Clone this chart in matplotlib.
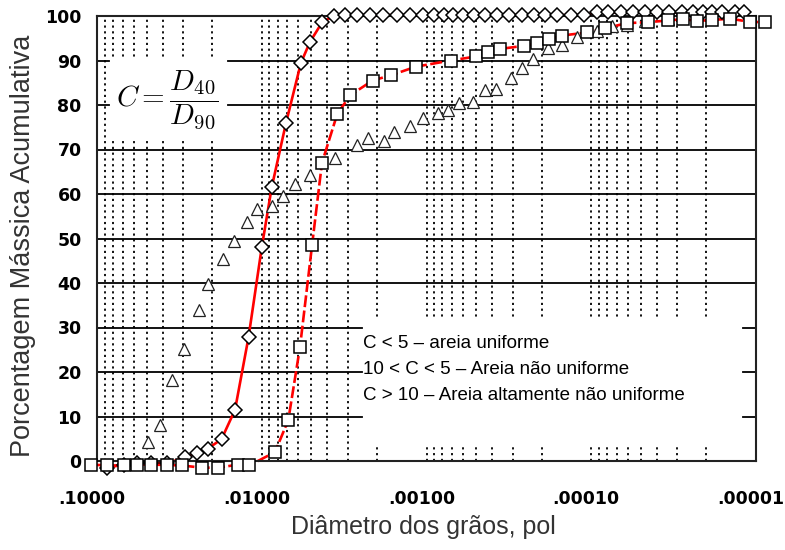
import matplotlib

matplotlib.use("Agg")
import matplotlib.pyplot as plt  # noqa: E402
import matplotlib.transforms as mtransforms  # noqa: E402
from matplotlib.patches import Rectangle  # noqa: E402

plt.rcParams["mathtext.fontset"] = "cm"

# Grain diameter (pol) and cumulative mass percentage for the three sands.
# Sample 1: diamonds, solid red curve.
d_sample1 = [
    0.0870, 0.0686, 0.0572, 0.0470, 0.0376, 0.02923, 0.02455, 0.02120,
    0.01755, 0.01453, 0.01203, 0.01000, 0.00870, 0.00712, 0.00578, 0.00509,
    0.00428, 0.00364, 0.003125, 0.002642, 0.002203, 0.001837, 0.001510,
    0.001259, 0.001050, 0.000901, 0.000783, 0.000690, 0.000601, 0.000515,
    0.000441, 0.000373, 0.000316, 0.000263, 0.0002226, 0.0001909, 0.0001614,
    0.0001327, 0.0001107, 0.0000923, 0.0000791, 0.0000660, 0.0000558,
    0.0000472, 0.0000399, 0.0000337, 0.0000281, 0.0000241, 0.0000210,
    0.0000185, 0.0000161, 0.0000134, 0.0000118,
]
p_sample1 = [
    -1.5, -0.8, -0.5, -0.5, -0.5, 0.8, 1.8, 2.8,
    4.9, 11.5, 27.8, 48.0, 61.5, 76.0, 89.5, 94.2,
    98.7, 100.0, 100.2, 100.2, 100.2, 100.2, 100.2,
    100.2, 100.2, 100.2, 100.2, 100.2, 100.2, 100.2,
    100.2, 100.2, 100.2, 100.2, 100.2, 100.2, 100.2,
    100.2, 100.2, 100.8, 100.8, 100.8, 100.8,
    100.8, 100.8, 100.8, 100.8, 100.8, 100.8,
    100.8, 100.8, 100.8, 100.8,
]

# Sample 2: squares, dashed red curve.
d_sample2 = [
    0.109, 0.0873, 0.0686, 0.0574, 0.0472, 0.0377, 0.0306, 0.02314,
    0.01836, 0.01388, 0.01190, 0.00831, 0.00690, 0.00586, 0.00495, 0.00431,
    0.00348, 0.00290, 0.002127, 0.001636, 0.001163, 0.000713, 0.000501,
    0.000422, 0.000358, 0.000256, 0.0002126, 0.0001797, 0.0001511,
    0.0001057, 0.0000825, 0.0000609, 0.0000454, 0.0000341, 0.0000276,
    0.0000228, 0.0000185, 0.00001438, 0.00001095, 0.00000882,
]
p_sample2 = [
    -0.8, -1.0, -1.0, -0.8, -0.8, -0.9, -1.0, -1.5,
    -1.5, -0.8, -1.0, 2.0, 9.2, 25.6, 48.5, 67.0,
    78.0, 82.2, 85.5, 86.7, 88.6, 90.0, 90.9,
    91.8, 92.6, 93.3, 93.9, 94.8, 95.6,
    96.3, 97.2, 98.4, 98.6, 99.0, 99.3,
    98.9, 99.1, 99.4, 98.7, 98.6,
]

# Sample 3: triangles, no curve.
d_sample3 = [
    0.0487, 0.0412, 0.0349, 0.02944, 0.02414, 0.02111, 0.01726, 0.01474,
    0.01234, 0.01064, 0.00867, 0.00746, 0.00628, 0.00512, 0.00359, 0.002652,
    0.002256, 0.001799, 0.001576, 0.001259, 0.001054, 0.000848, 0.000737,
    0.000632, 0.000524, 0.000441, 0.000379, 0.000308, 0.000264, 0.0002248,
    0.0001823, 0.0001511, 0.0001215, 0.0000923, 0.0000748, 0.0000607,
    0.0000472, 0.0000342,
]
p_sample3 = [
    4.3, 8.0, 18.3, 25.2, 34.0, 39.7, 45.3, 49.4,
    53.7, 56.6, 57.2, 59.6, 62.3, 64.3, 68.2, 71.1,
    72.6, 71.9, 74.0, 75.2, 77.0, 78.1, 78.9,
    80.5, 80.7, 83.4, 83.5, 86.0, 88.4, 90.3,
    92.7, 93.5, 95.3, 96.6, 97.8, 98.0,
    98.8, 99.4,
]

x_ticks = [0.1, 0.01, 0.001, 0.0001, 0.00001]
x_ticklabels = [".10000", ".01000", ".00100", ".00010", ".00001"]
y_ticks = list(range(0, 101, 10))

classes = [
    "C < 5 – areia uniforme",
    "10 < C < 5 – Areia não uniforme",
    "C > 10 – Areia altamente não uniforme",
]

fig = plt.figure(figsize=(7.85, 5.5), dpi=100)
ax = fig.add_axes([97 / 785, 89 / 550, 659 / 785, 445 / 550])
ax.set_xscale("log")
ax.set_xlim(0.1, 0.00001)
ax.set_ylim(0, 100)

# dotted verticals at every 1..9 step of each decade
grid_x = [m * 10.0**e for e in (-5, -4, -3, -2) for m in range(1, 10)][1:]
ax.vlines(grid_x, 0, 100, colors="black", linestyles=(0, (1.2, 2.0)),
          linewidth=1.3, zorder=1)

# white panels behind the formula and the classification notes
ax.add_patch(Rectangle((0.0228, 0.726), 0.176, 0.18, transform=ax.transAxes,
                       facecolor="white", edgecolor="none", zorder=1.5))
ax.add_patch(Rectangle((0.402, 0.0315), 0.578, 0.285, transform=ax.transAxes,
                       facecolor="white", edgecolor="none", zorder=1.5))

# solid horizontals, broken around the panels
hl = dict(color="black", linewidth=1.3, zorder=1.6)
for y in (40, 50, 60, 70):
    ax.axhline(y, **hl)
for y in (80, 90):
    ax.axhline(y, xmin=0.199, xmax=1, **hl)
    ax.axhline(y, xmin=0, xmax=0.018, **hl)
for y in (10, 20, 30):
    ax.axhline(y, xmin=0, xmax=0.402, **hl)
    ax.axhline(y, xmin=0.980, xmax=1, **hl)

# curves and markers
ax.plot(d_sample1, p_sample1, color="#ff0000", linewidth=1.9, zorder=2,
        clip_on=False)
ax.plot(d_sample2, p_sample2, color="#ff0000", linewidth=1.9,
        linestyle=(0, (4.5, 1.3)), zorder=2, clip_on=False)
ax.plot(d_sample3, p_sample3, linestyle="none", marker="^", markersize=8.5,
        markerfacecolor="white", markeredgecolor="#222222",
        markeredgewidth=0.9, zorder=3, clip_on=False)
ax.plot(d_sample1, p_sample1, linestyle="none", marker="D", markersize=7.3,
        markerfacecolor="white", markeredgecolor="black",
        markeredgewidth=1.1, zorder=4, clip_on=False)
ax.plot(d_sample2, p_sample2, linestyle="none", marker="s", markersize=8.2,
        markerfacecolor="white", markeredgecolor="black",
        markeredgewidth=1.1, zorder=5, clip_on=False)

ax.text(0.107, 0.81, r"$C=\dfrac{D_{40}}{D_{90}}$", transform=ax.transAxes,
        fontsize=21, ha="center", va="center", zorder=6)
for i, line in enumerate(classes):
    ax.text(0.4036, 0.265 - i * 0.059, line, transform=ax.transAxes,
            fontsize=13.5, family="Liberation Sans", ha="left", va="center",
            zorder=6)

for side in ("left", "right", "top", "bottom"):
    ax.spines[side].set_linewidth(1.5)
    ax.spines[side].set_color("#222222")

ax.set_xticks(x_ticks)
ax.set_xticklabels(x_ticklabels)
ax.minorticks_off()
ax.set_yticks(y_ticks)
ax.tick_params(axis="both", length=0, labelsize=12.5)
ax.tick_params(axis="x", pad=21)
ax.tick_params(axis="y", pad=11)
shift = mtransforms.ScaledTranslation(-5 / 100, 0, fig.dpi_scale_trans)
for lab in ax.get_xticklabels():
    lab.set_fontweight("bold")
    lab.set_transform(lab.get_transform() + shift)
for lab in ax.get_yticklabels():
    lab.set_fontweight("bold")

fig.text(23 / 785, 1 - 246 / 550, "Porcentagem Mássica Acumulativa",
         rotation=90, ha="center", va="center", fontsize=19.5,
         family="Liberation Sans", color="#333333")
fig.text(423 / 785, 1 - 527 / 550, "Diâmetro dos grãos, pol",
         ha="center", va="center", fontsize=18, family="Liberation Sans",
         color="#333333")

fig.savefig("out.png", dpi=100)
plt.close(fig)
